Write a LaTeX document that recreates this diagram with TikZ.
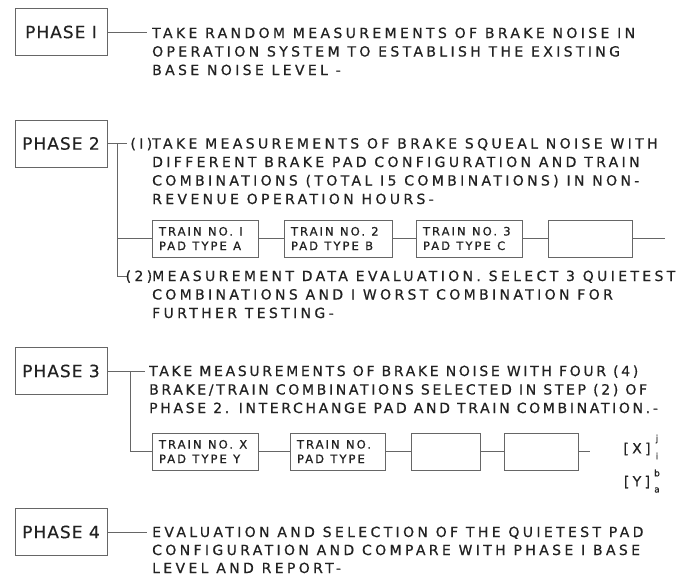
\documentclass[tikz,border=0pt]{standalone}
\usepackage{fontspec}
\setmainfont{DejaVu Sans}[LetterSpace=24,FakeBold=0.6]
\newfontfamily\lblfont{DejaVu Sans}[LetterSpace=6,FakeBold=0.4]
\newfontfamily\boxfont{DejaVu Sans}[LetterSpace=18,FakeBold=0.8]
\newcommand{\wsp}{\hspace{0.55em}}
\definecolor{inkc}{HTML}{222222}
\definecolor{linec}{HTML}{666666}
\begin{document}
\begin{tikzpicture}[x=1pt,y=-1pt,
  phasebox/.style={draw=linec, line width=0.9pt, minimum width=92pt, minimum height=47pt,
    inner sep=0pt, text=inkc, font=\lblfont\fontsize{17}{20}\selectfont},
  body/.style={anchor=base west, inner sep=0pt, align=left, text=inkc,
    font=\fontsize{14}{18.5}\selectfont},
  trainbox/.style={draw=linec, line width=0.9pt, minimum height=37pt, inner xsep=7pt,
    inner ysep=0pt, text=inkc, font=\boxfont\fontsize{11.5}{14.5}\selectfont},
  conn/.style={draw=linec, line width=0.9pt},
  idx/.style={inner sep=0pt, text=inkc, font=\fontsize{9}{9}\selectfont}]
\useasboundingbox (0,0) rectangle (679,576);
\fill[white] (0,0) rectangle (679,576);

% ---------- PHASE 1 ----------
\node[phasebox] (p1) at (61,32) {PHASE I};
\coordinate (c1) at (147,32);
\draw[conn] (p1.east) -- (c1);
% base anchor = baseline of last line
\node[body] (txt1) at (152,75) {TAKE RANDOM MEASUREMENTS OF BRAKE NOISE IN\\OPERATION SYSTEM TO ESTABLISH THE EXISTING\\BASE NOISE LEVEL -};

% ---------- PHASE 2 ----------
\node[phasebox] (p2) at (61,143.5) {PHASE 2};
\coordinate (v2a) at (117,143.5);
\coordinate (v2b) at (117,276);
\coordinate (k2a) at (127,143.5);
\coordinate (k2b) at (127,276);
\draw[conn] (p2.east) -- (k2a);
\draw[conn] (v2a) -- (v2b) -- (k2b);
\node[body] (txt2a) at (152,204) {\llap{(I)}TAKE MEASUREMENTS OF BRAKE SQUEAL NOISE WITH\\DIFFERENT BRAKE PAD CONFIGURATION AND TRAIN\\COMBINATIONS (TOTAL I5 COMBINATIONS) IN NON-\\REVENUE OPERATION HOURS-};

\node[trainbox, minimum width=106pt, text width=92pt] (a1) at (205,238.5) {\noindent TRAIN\wsp NO.\wsp I\\PAD\wsp TYPE\wsp A};
\node[trainbox, minimum width=108pt, text width=94pt] (a2) at (338,238.5) {\noindent TRAIN\wsp NO.\wsp 2\\PAD\wsp TYPE\wsp B};
\node[trainbox, minimum width=106pt, text width=92pt] (a3) at (469,238.5) {\noindent TRAIN\wsp NO.\wsp 3\\PAD\wsp TYPE\wsp C};
\node[trainbox, minimum width=84pt, text width=70pt] (a4) at (590,238.5) {};
\coordinate (ae) at (665,238.5);
\draw[conn] (v2a |- a1.west) -- (a1.west);
\draw[conn] (a1.east) -- (a2.west);
\draw[conn] (a2.east) -- (a3.west);
\draw[conn] (a3.east) -- (a4.west);
\draw[conn] (a4.east) -- (ae);

\node[body] (txt2b) at (152,318) {\llap{(2)}MEASUREMENT DATA EVALUATION. SELECT 3 QUIETEST\\COMBINATIONS AND I WORST COMBINATION FOR\\FURTHER TESTING-};

% ---------- PHASE 3 ----------
\node[phasebox] (p3) at (61,371) {PHASE 3};
\coordinate (c3) at (145,371);
\coordinate (v3) at (130,371);
\draw[conn] (p3.east) -- (c3);
\node[body, font=\addfontfeature{LetterSpace=19}\fontsize{14}{18.5}\selectfont] (txt3) at (149,413) {TAKE MEASUREMENTS OF BRAKE NOISE WITH FOUR (4)\\BRAKE/TRAIN COMBINATIONS SELECTED IN STEP (2) OF\\PHASE 2. INTERCHANGE PAD AND TRAIN COMBINATION.-};

\node[trainbox, minimum width=106pt, text width=92pt] (b1) at (205,451.5) {\noindent TRAIN\wsp NO.\wsp X\\PAD\wsp TYPE\wsp Y};
\node[trainbox, minimum width=95pt, text width=81pt] (b2) at (337.5,451.5) {\noindent TRAIN\wsp NO.\\PAD\wsp TYPE};
\node[trainbox, minimum width=69pt, text width=55pt] (b3) at (445.5,451.5) {};
\node[trainbox, minimum width=74pt, text width=60pt] (b4) at (541,451.5) {};
\coordinate (be) at (590,451.5);
\draw[conn] (v3) -- (v3 |- b1.west) -- (b1.west);
\draw[conn] (b1.east) -- (b2.west);
\draw[conn] (b2.east) -- (b3.west);
\draw[conn] (b3.east) -- (b4.west);
\draw[conn] (b4.east) -- (be);

\node[inner sep=0pt, text=inkc, font=\fontsize{14}{14}\selectfont] (xx) at (637,449) {[X]};
\node[idx] (xj) at (657,439) {j};
\node[idx] (xi) at (657,456) {i};
\node[inner sep=0pt, text=inkc, font=\fontsize{14}{14}\selectfont] (yy) at (637,482) {[Y]};
\node[idx] (yb) at (657,473) {b};
\node[idx] (ya) at (657,490) {a};

% ---------- PHASE 4 ----------
\node[phasebox] (p4) at (61,532) {PHASE 4};
\coordinate (c4) at (147,532);
\draw[conn] (p4.east) -- (c4);
\node[body, font=\fontsize{14}{18}\selectfont] (txt4) at (152,573) {EVALUATION AND SELECTION OF THE QUIETEST PAD\\CONFIGURATION AND COMPARE WITH PHASE I BASE\\LEVEL AND REPORT-};
\end{tikzpicture}
\end{document}
